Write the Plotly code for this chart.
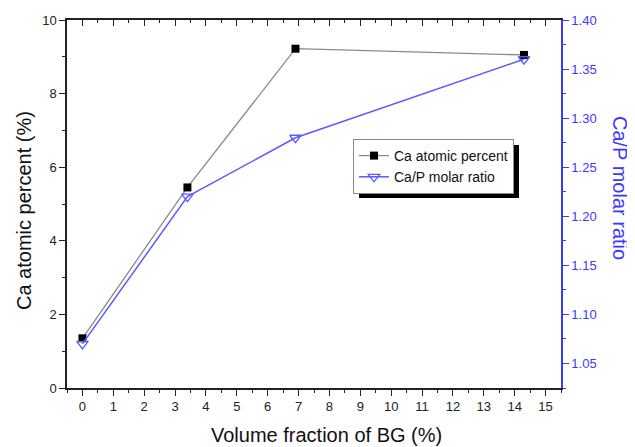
import plotly.graph_objects as go

# Data
vol_fraction = [0, 3.4, 6.9, 14.3]
ca_atomic = [1.35, 5.45, 9.22, 9.05]
ca_p_ratio = [1.07, 1.22, 1.28, 1.36]

x_ticks = list(range(0, 16))
y_left_ticks = [0, 2, 4, 6, 8, 10]
y_right_ticks = [1.05, 1.10, 1.15, 1.20, 1.25, 1.30, 1.35, 1.40]
y_right_labels = ["%.2f" % v for v in y_right_ticks]

BLUE = "#3a3aff"
LINEBLUE = "#5a5aff"
FONT = "Liberation Sans, Arial, sans-serif"

# page body has an 8px margin; figure sized/offset to compensate
OFF = 8
W, H = 627, 439
L, R, T, B = 59, 74, 12, 59
PW, PH = W - L - R, H - T - B


def px(sx):
    return (sx - OFF - L) / PW


def py(sy):
    return (H - B - (sy - OFF)) / PH


fig = go.Figure()
fig.add_trace(go.Scatter(
    x=vol_fraction, y=ca_atomic, name="Ca atomic percent",
    mode="lines+markers",
    line=dict(color="#8a8a8a", width=1.3),
    marker=dict(symbol="square", size=8, color="black"),
    xaxis="x", yaxis="y"))
fig.add_trace(go.Scatter(
    x=vol_fraction, y=ca_p_ratio, name="Ca/P molar ratio",
    mode="lines+markers",
    line=dict(color=LINEBLUE, width=1.5),
    marker=dict(symbol="triangle-down-open", size=10, color=LINEBLUE, line=dict(width=1.3)),
    xaxis="x", yaxis="y2"))
# empty trace to instantiate top mirror axis
fig.add_trace(go.Scatter(x=[], y=[], xaxis="x2", yaxis="y", showlegend=False, hoverinfo="skip"))

xr = [-0.5, 15.5]
LEG_TOP, LEG_LEFT, LEG_W, LEG_H = 139, 353, 160, 54
fig.update_layout(
    width=W, height=H,
    margin=dict(l=L, r=R, t=T, b=B, autoexpand=False),
    paper_bgcolor="white", plot_bgcolor="white",
    font=dict(family=FONT, size=13, color="black"),
    showlegend=True,
    xaxis=dict(
        range=xr, tickvals=x_ticks, ticktext=[str(v) for v in x_ticks], automargin=False,
        showgrid=False, zeroline=False, showline=True, linecolor="#222", linewidth=1.5,
        ticks="outside", ticklen=6, tickwidth=1.2, tickcolor="#222",
        minor=dict(ticks="outside", ticklen=3, tickwidth=1, tickcolor="#222", dtick=0.5, tick0=0.5),
        tickfont=dict(size=13, color="#222"),
    ),
    xaxis2=dict(
        range=xr, overlaying="x", side="top", anchor="y", automargin=False,
        tickvals=x_ticks, showticklabels=False,
        showgrid=False, zeroline=False, showline=True, linecolor="#222", linewidth=1.5,
        ticks="inside", ticklen=6, tickwidth=1.2, tickcolor="#222",
        minor=dict(ticks="inside", ticklen=3, tickwidth=1, tickcolor="#222", dtick=0.5, tick0=0.5),
    ),
    yaxis=dict(
        range=[0, 10], tickvals=y_left_ticks, ticktext=[str(v) for v in y_left_ticks], automargin=False,
        showgrid=False, zeroline=False, showline=True, linecolor="#222", linewidth=1.5,
        ticks="outside", ticklen=6, tickwidth=1.2, tickcolor="#222",
        minor=dict(ticks="outside", ticklen=3, tickwidth=1, tickcolor="#222", dtick=1, tick0=1),
        tickfont=dict(size=13, color="#222"),
    ),
    yaxis2=dict(
        range=[1.025, 1.40], overlaying="y", side="right", anchor="x", automargin=False,
        tickvals=y_right_ticks, ticktext=y_right_labels,
        showgrid=False, zeroline=False, showline=True, linecolor=BLUE, linewidth=1.5,
        ticks="outside", ticklen=6, tickwidth=1.2, tickcolor=BLUE,
        minor=dict(ticks="outside", ticklen=3, tickwidth=1, tickcolor=BLUE, dtick=0.05, tick0=1.075),
        tickfont=dict(size=13, color=BLUE),
    ),
    legend=dict(
        x=px(LEG_LEFT), y=py(LEG_TOP), xanchor="left", yanchor="top",
        bgcolor="white", bordercolor="#888", borderwidth=1,
        font=dict(size=14, color="#111"), tracegroupgap=0,
    ),
    shapes=[dict(
        type="rect", xref="paper", yref="paper",
        x0=px(LEG_LEFT + 6), x1=px(LEG_LEFT + LEG_W + 6),
        y0=py(LEG_TOP + LEG_H + 5), y1=py(LEG_TOP + 6),
        fillcolor="black", line=dict(width=0), layer="below")],
    annotations=[
        dict(text="Volume fraction of BG (%)", xref="paper", yref="paper",
             x=px(326), y=py(435), xanchor="center", yanchor="middle", showarrow=False,
             font=dict(size=20, color="#111")),
        dict(text="Ca atomic percent (%)", textangle=-90, xref="paper", yref="paper",
             x=px(24), y=py(211), xanchor="center", yanchor="middle", showarrow=False,
             font=dict(size=20, color="#111")),
        dict(text="Ca/P molar ratio", textangle=90, xref="paper", yref="paper",
             x=px(620), y=py(188), xanchor="center", yanchor="middle", showarrow=False,
             font=dict(size=20, color=BLUE)),
    ],
)

fig.write_html("out.html")
